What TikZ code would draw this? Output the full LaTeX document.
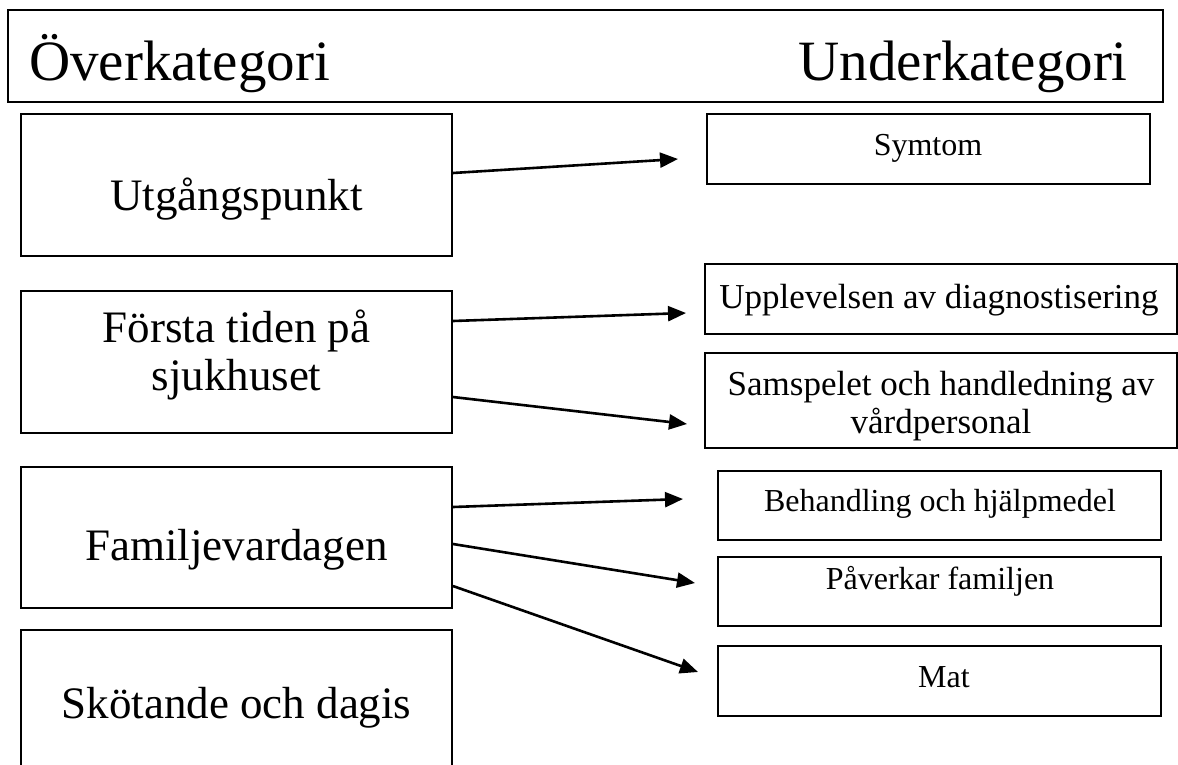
\documentclass[tikz,border=0pt]{standalone}
\usepackage{fontspec}
\setmainfont{Liberation Serif}
\usetikzlibrary{arrows.meta}
\tikzset{
  box/.style={draw=black, line width=1.8pt, inner sep=0pt},
  lbox/.style={box, minimum width=431pt, minimum height=142pt},
  rbox/.style={box, minimum width=443pt, minimum height=70pt},
  wbox/.style={box, minimum width=472pt},
  txt/.style={inner sep=0pt, anchor=base, align=center},
  hfont/.style={font=\fontsize{57}{60}\selectfont},
  lfont/.style={font=\fontsize{45}{48}\selectfont},
  rfont/.style={font=\fontsize{35}{38}\selectfont},
  sfont/.style={font=\fontsize{32}{36}\selectfont},
  conn/.style={line width=2.6pt, -{Triangle[length=18pt,width=15pt]}}
}
\begin{document}
\begin{tikzpicture}[x=1pt,y=1pt]
\useasboundingbox (0,0) rectangle (1178,-764);
\clip (0,0) rectangle (1178,-764);
% header
\node[box, minimum width=1155pt, minimum height=92pt] (hdr) at (585.5,-56) {};
\node[txt, hfont, anchor=base west] (hover) at (29,-80) {Överkategori};
\node[txt, hfont, anchor=base east] (hunder) at (1128,-80) {Underkategori};
% left column
\node[lbox] (utg) at (236.5,-185) {};
\node[lbox] (forsta) at (236.5,-362) {};
\node[lbox, minimum height=141pt] (fam) at (236.5,-537.5) {};
\node[lbox, minimum height=160pt] (skot) at (236.5,-710) {};
\node[txt, lfont] (tutg) at (236.5,-210) {Utgångspunkt};
\node[txt, lfont] (tforsta) at (236.5,-390) {Första tiden på\\sjukhuset};
\node[txt, lfont] (tfam) at (236.5,-560) {Familjevardagen};
\node[txt, lfont] (tskot) at (236.5,-718) {Skötande och dagis};
% right column
\node[rbox] (sym) at (928.5,-149) {};
\node[wbox, minimum height=70pt] (upp) at (941,-299) {};
\node[wbox, minimum height=95pt] (sam) at (941,-400.5) {};
\node[rbox, minimum height=69pt] (beh) at (939.5,-505.5) {};
\node[rbox, minimum height=69pt] (pav) at (939.5,-591.5) {};
\node[rbox] (mat) at (939.5,-681) {};
\node[txt, sfont] (tsym) at (928,-155) {Symtom};
\node[txt, rfont] (tupp) at (939,-308) {Upplevelsen av diagnostisering};
\node[txt, rfont] (tsam) at (941,-433) {Samspelet och handledning av\\vårdpersonal};
\node[txt, sfont] (tbeh) at (940,-511) {Behandling och hjälpmedel};
\node[txt, sfont] (tpav) at (940,-589) {Påverkar familjen};
\node[txt, sfont] (tmat) at (944,-687) {Mat};
% arrow tips
\coordinate (e1) at (678,-159);
\coordinate (e2) at (686,-313);
\coordinate (e3) at (687,-424);
\coordinate (e4) at (683,-499);
\coordinate (e5) at (695,-583);
\coordinate (e6) at (698,-672);
% connectors
\draw[conn] ([yshift=12pt]utg.east) -- (e1);
\draw[conn] ([yshift=41pt]forsta.east) -- (e2);
\draw[conn] ([yshift=-35pt]forsta.east) -- (e3);
\draw[conn] ([yshift=30.5pt]fam.east) -- (e4);
\draw[conn] ([yshift=-6.5pt]fam.east) -- (e5);
\draw[conn] ([yshift=-48.5pt]fam.east) -- (e6);
\end{tikzpicture}
\end{document}
